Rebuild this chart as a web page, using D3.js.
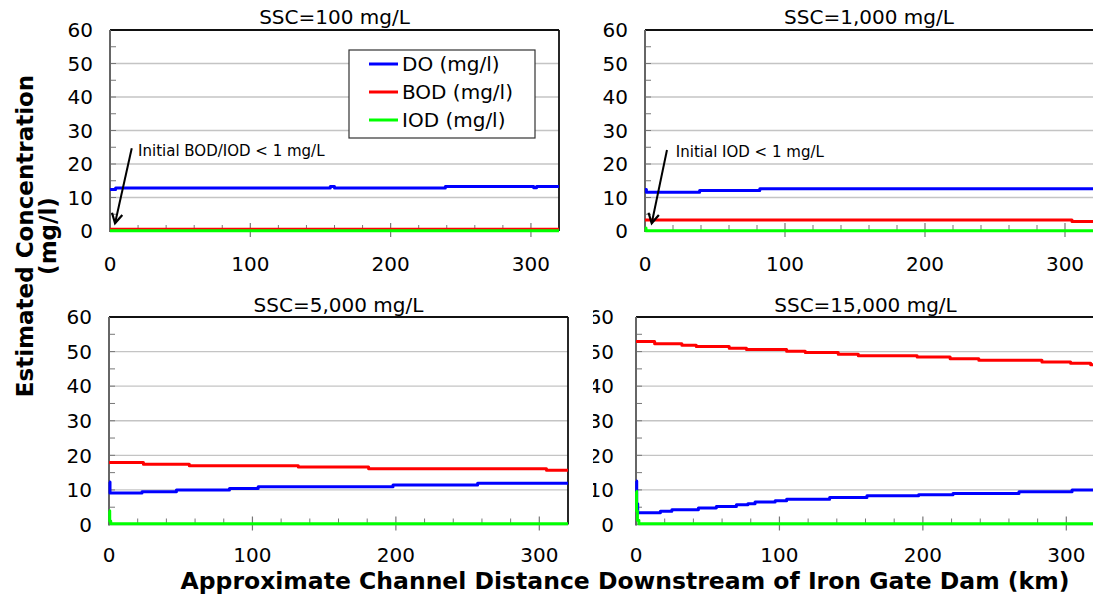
<!DOCTYPE html>
<html><head><meta charset="utf-8">
<script src="https://cdn.jsdelivr.net/npm/d3@7"></script>
<style>
body{margin:0;background:#fff}
svg{display:block}
text{font-family:"DejaVu Sans",Verdana,sans-serif;fill:#000}
</style>
</head><body>
<svg id="chart" width="1093" height="594"></svg>
<script>
// ---------- data ----------
const distanceTicks = [0, 100, 200, 300];
const concTicks = [0, 10, 20, 30, 40, 50, 60];
const panelTitles = ["SSC=100 mg/L", "SSC=1,000 mg/L", "SSC=5,000 mg/L", "SSC=15,000 mg/L"];
const seriesNames = ["DO (mg/l)", "BOD (mg/l)", "IOD (mg/l)"];
const seriesColors = ["#0000ff", "#ff0000", "#00ff00"];
const yTitleLines = ["Estimated Concentration", "(mg/l)"];
const xTitle = "Approximate Channel Distance Downstream of Iron Gate Dam (km)";

// [km, mg/l] step points (value holds from km onward)
const ssc100_DO  = [[0,12.4],[4,12.8],[157,13.3],[160,12.8],[239,13.3],[302,12.9],[304,13.3],[320,13.3]];
const ssc100_BOD = [[0,0.5],[320,0.5]];
const ssc100_IOD = [[0,0.05],[320,0.05]];

const ssc1000_DO  = [[0,12.4],[1,11.6],[39,12.1],[82,12.6],[320,12.6]];
const ssc1000_BOD = [[0,3.3],[305,2.8],[320,2.8]];
const ssc1000_IOD = [[0,0.9],[0.7,0.05],[320,0.05]];

const ssc5000_DO  = [[0,12.3],[0.7,9.1],[23,9.5],[47,10.0],[84,10.4],[104,10.9],[198,11.4],[257,11.9],[320,11.9]];
const ssc5000_BOD = [[0,17.9],[24,17.4],[56,17.0],[132,16.6],[181,16.1],[305,15.7],[320,15.7]];
const ssc5000_IOD = [[0,4.0],[0.5,1.0],[1.2,0.2],[320,0.2]];

const ssc15000_DO  = [[0,12.6],[0.5,6.0],[1.2,3.4],[17,3.8],[25,4.3],[43.5,4.8],[56,5.2],[70,5.7],[78,6.0],[83,6.5],[97,6.9],[105,7.3],[135,7.8],[161,8.3],[197,8.6],[221,9.0],[267,9.5],[304,10.0],[320,10.0]];
const ssc15000_BOD = [[0,52.9],[13,52.3],[32,51.8],[42,51.5],[65,51.0],[77,50.6],[105,50.1],[118,49.7],[141,49.2],[155,48.8],[196,48.4],[219,47.9],[239,47.5],[283,47.0],[303,46.6],[317,46.2],[320,46.2]];
const ssc15000_IOD = [[0,9.6],[0.4,4.0],[1,1.2],[2,0.2],[320,0.2]];

// annotations: text, text anchor point, arrow tail, arrow tip (data units)
const annot100  = {text: "Initial BOD/IOD < 1 mg/L", at: [20, 22.4], tail: [15.5, 24.7], tip: [3.6, 2.3]};
const annot1000 = {text: "Initial IOD < 1 mg/L",     at: [22, 22.1], tail: [15.7, 24.2], tip: [4.8, 2.3]};

// ---------- layout ----------
const panels = [
  {title: panelTitles[0], series: [ssc100_DO, ssc100_BOD, ssc100_IOD], x0: 110, x1: 559, y0: 231, y1: 30, right: true, legend: true, annot: annot100, titleY: 24, labelY: 271, labelGap: 17},
  {title: panelTitles[1], series: [ssc1000_DO, ssc1000_BOD, ssc1000_IOD], x0: 645, x1: 1093, y0: 231, y1: 30, right: false, annot: annot1000, titleY: 24, labelY: 271, labelGap: 17},
  {title: panelTitles[3], series: [ssc15000_DO, ssc15000_BOD, ssc15000_IOD], x0: 636, x1: 1095, y0: 524.5, y1: 317, right: false, clipLabels: 593, titleY: 312, labelY: 562, labelGap: 22},
  {title: panelTitles[2], series: [ssc5000_DO, ssc5000_BOD, ssc5000_IOD], x0: 109, x1: 568, y0: 524.5, y1: 317, right: true, titleY: 312, labelY: 562, labelGap: 17}
];

const svg = d3.select("#chart");
svg.append("rect").attr("width", 1093).attr("height", 594).attr("fill", "#fff");
const defs = svg.append("defs");

panels.forEach((p, i) => {
  const x = d3.scaleLinear().domain([0, 320]).range([p.x0, p.x1]);
  const y = d3.scaleLinear().domain([0, 60]).range([p.y0, p.y1]);
  const g = svg.append("g");

  // gridlines
  g.selectAll(".grid").data(concTicks.filter(v => v > 0 && v < 60)).enter().append("line")
    .attr("x1", p.x0).attr("x2", p.x1).attr("y1", d => y(d)).attr("y2", d => y(d))
    .attr("stroke", "#c4c4c4").attr("stroke-width", 1.4);

  // minor y ticks (inside)
  g.selectAll(".ymin").data(d3.range(5, 60, 5)).enter().append("line")
    .attr("x1", p.x0).attr("x2", p.x0 + 6).attr("y1", d => y(d)).attr("y2", d => y(d))
    .attr("stroke", "#777").attr("stroke-width", 1);

  // x ticks
  g.selectAll(".xmin").data(d3.range(20, 320, 20).filter(v => v % 100 !== 0)).enter().append("line")
    .attr("x1", d => x(d)).attr("x2", d => x(d)).attr("y1", p.y0).attr("y2", p.y0 - 6)
    .attr("stroke", "#777").attr("stroke-width", 1);
  g.selectAll(".xmaj").data(distanceTicks.filter(v => v > 0)).enter().append("line")
    .attr("x1", d => x(d)).attr("x2", d => x(d)).attr("y1", p.y0 + 6).attr("y2", p.y0 - 8)
    .attr("stroke", "#777").attr("stroke-width", 1.2);

  // frame
  g.append("line").attr("x1", p.x0).attr("x2", p.x1).attr("y1", p.y1).attr("y2", p.y1)
    .attr("stroke", "#111").attr("stroke-width", 1.8);
  if (p.right) g.append("line").attr("x1", p.x1).attr("x2", p.x1).attr("y1", p.y1).attr("y2", p.y0)
    .attr("stroke", "#111").attr("stroke-width", 1.8);
  g.append("line").attr("x1", p.x0).attr("x2", p.x1).attr("y1", p.y0).attr("y2", p.y0)
    .attr("stroke", "#8a8a8a").attr("stroke-width", 1.4);
  g.append("line").attr("x1", p.x0).attr("x2", p.x0).attr("y1", p.y1).attr("y2", p.y0 + 1)
    .attr("stroke", "#666").attr("stroke-width", 2);

  // series
  const line = d3.line().x(d => x(d[0])).y(d => y(d[1])).curve(d3.curveStepAfter);
  p.series.forEach((s, k) => {
    g.append("path").attr("d", line(s)).attr("fill", "none")
      .attr("stroke", seriesColors[k]).attr("stroke-width", 3).attr("stroke-linejoin", "round");
  });

  // y tick labels
  let yl = g.append("g");
  if (p.clipLabels) {
    const cid = "clip" + i;
    defs.append("clipPath").attr("id", cid).append("rect")
      .attr("x", p.clipLabels).attr("y", 0).attr("width", 1093).attr("height", 594);
    yl.attr("clip-path", `url(#${cid})`);
  }
  yl.selectAll("text").data(concTicks).enter().append("text")
    .attr("x", p.x0 - p.labelGap).attr("y", d => y(d)).attr("dy", "0.36em")
    .attr("text-anchor", "end").style("font-size", "20px").text(d => d);

  // x tick labels
  g.selectAll(".xl").data(distanceTicks).enter().append("text")
    .attr("x", d => x(d)).attr("y", p.labelY).attr("text-anchor", "middle")
    .style("font-size", "20px").text(d => d);

  // title
  g.append("text").attr("x", (p.x0 + p.x1) / 2).attr("y", p.titleY).attr("text-anchor", "middle")
    .style("font-size", "20px").text(p.title);

  // annotation
  if (p.annot) {
    const a = p.annot;
    const tx = x(a.tail[0]), ty = y(a.tail[1]), hx = x(a.tip[0]), hy = y(a.tip[1]);
    g.append("line").attr("x1", tx).attr("y1", ty).attr("x2", hx).attr("y2", hy)
      .attr("stroke", "#000").attr("stroke-width", 2);
    const ang = Math.atan2(hy - ty, hx - tx), L = 11, spread = 0.5;
    const p1 = [hx - L * Math.cos(ang - spread), hy - L * Math.sin(ang - spread)];
    const p2 = [hx - L * Math.cos(ang + spread), hy - L * Math.sin(ang + spread)];
    g.append("path").attr("d", `M${p1}L${hx},${hy}L${p2}`).attr("fill", "none")
      .attr("stroke", "#000").attr("stroke-width", 2.2);
    g.append("text").attr("x", x(a.at[0])).attr("y", y(a.at[1]))
      .style("font-size", "15px").text(a.text);
  }

  // legend
  if (p.legend) {
    const lg = g.append("g");
    lg.append("rect").attr("x", 349).attr("y", 50).attr("width", 186).attr("height", 88)
      .attr("fill", "#fff").attr("stroke", "#333").attr("stroke-width", 1.2);
    seriesNames.forEach((n, k) => {
      const ly = 64 + k * 28;
      lg.append("line").attr("x1", 369).attr("x2", 398).attr("y1", ly).attr("y2", ly)
        .attr("stroke", seriesColors[k]).attr("stroke-width", 3);
      lg.append("text").attr("x", 402).attr("y", ly).attr("dy", "0.36em")
        .style("font-size", "20px").text(n);
    });
  }
});

// axis titles
svg.append("g").attr("transform", "translate(0,236)").selectAll("text").data(yTitleLines).enter()
  .append("text").attr("transform", (d, k) => `translate(${k === 0 ? 25 : 48},0) rotate(-90)`)
  .attr("text-anchor", "middle").attr("dy", "0.36em")
  .style("font-size", "23px").style("font-weight", "bold").text(d => d);

svg.append("text").attr("x", 625).attr("y", 589).attr("text-anchor", "middle")
  .style("font-size", "23.5px").style("font-weight", "bold").text(xTitle);
</script>
</body></html>
